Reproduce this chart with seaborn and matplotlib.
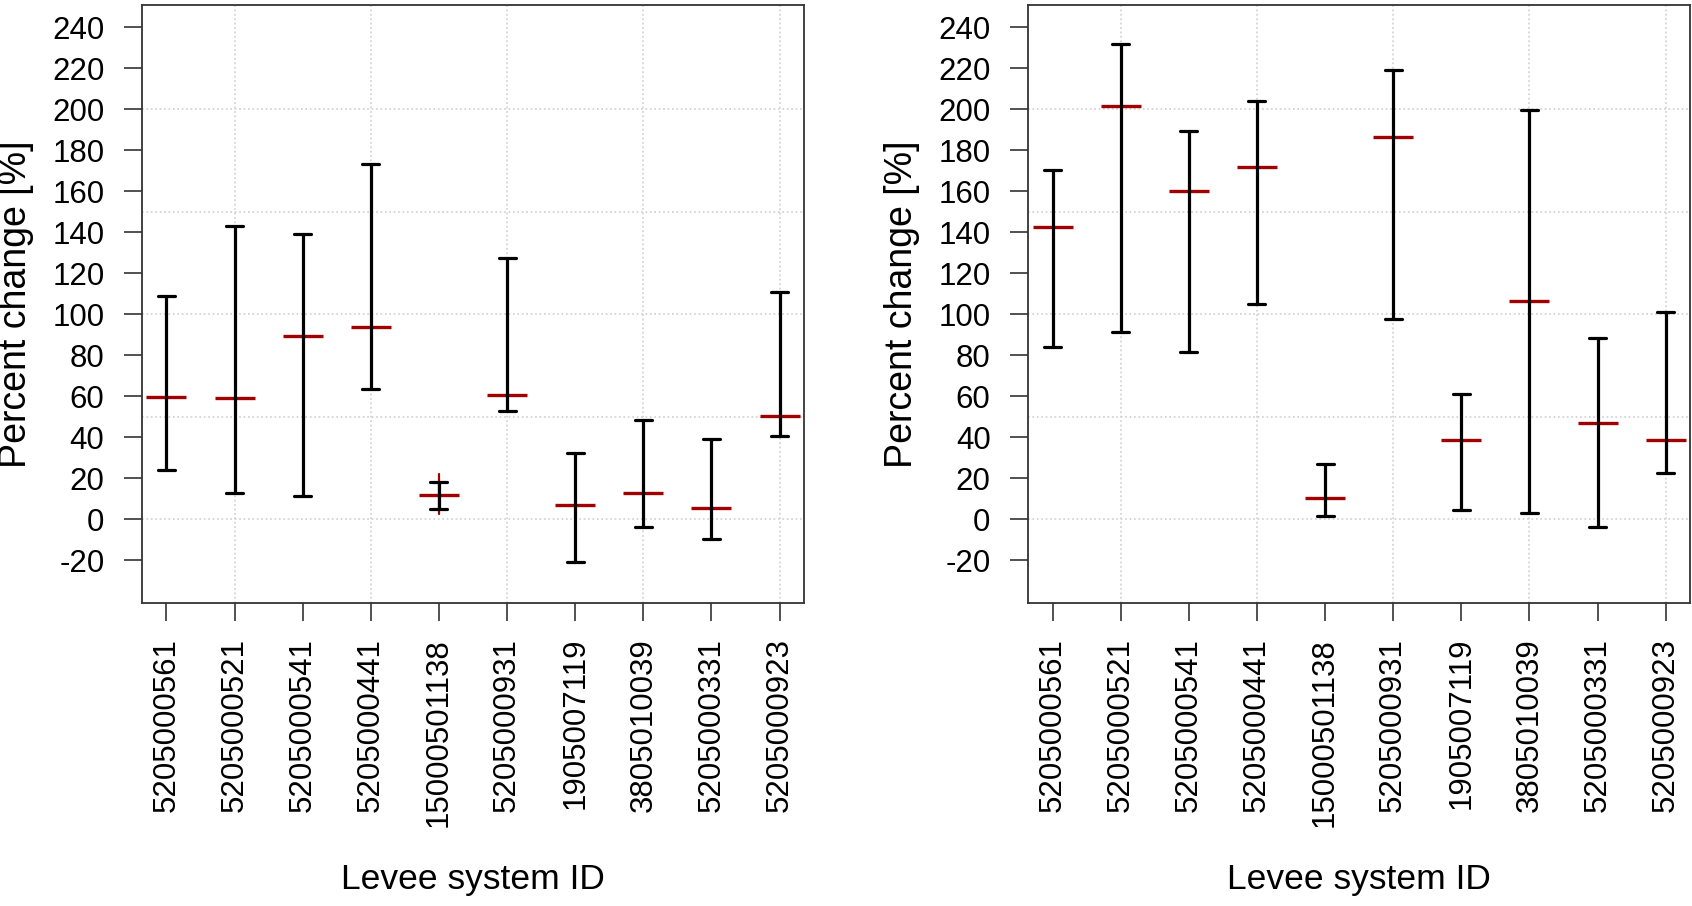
import numpy as np
import pandas as pd
import matplotlib
matplotlib.use("Agg")
import matplotlib.pyplot as plt
import seaborn as sns

# levee system IDs (same order in both panels)
levee_ids = ["5205000561", "5205000521", "5205000541", "5205000441", "15000501138",
             "5205000931", "1905007119", "3805010039", "5205000331", "5205000923"]

# left panel: median and range of percent change
left_med = [59.7, 59.0, 89.4, 93.9, 12.1, 60.5, 7.0, 13.0, 5.5, 50.6]
left_low = [24.3, 12.8, 11.5, 63.7, 4.9, 53.0, -21.0, -3.7, -9.8, 40.5]
left_high = [108.8, 143.0, 139.0, 173.5, 18.2, 127.5, 32.6, 48.7, 39.3, 110.8]

# red range that shows past the black caps in the left panel
left_red_ids = ["15000501138"]
left_red_low = [2.8]
left_red_high = [22.0]

# right panel
right_med = [142.8, 201.8, 160.1, 171.8, 10.6, 186.5, 38.6, 106.3, 46.8, 38.6]
right_low = [84.0, 91.3, 81.7, 104.9, 1.6, 97.7, 4.5, 3.1, -3.6, 22.7]
right_high = [170.2, 231.8, 189.6, 204.0, 27.2, 218.9, 60.9, 199.6, 88.6, 101.3]

y_ticks = list(range(-20, 241, 20))
grid_y = [0, 50, 100, 150, 200]

sns.set_style("white")
plt.rcParams["font.family"] = ["Liberation Sans", "DejaVu Sans"]
plt.rcParams["text.color"] = "black"
plt.rcParams["axes.labelcolor"] = "black"
plt.rcParams["xtick.color"] = "black"
plt.rcParams["ytick.color"] = "black"

RED = "#a00000"
GRID = "#cfcfcf"


def long_table(ids, *cols):
    rows = []
    for i, lid in enumerate(ids):
        for col in cols:
            rows.append({"id": lid, "value": col[i]})
    return pd.DataFrame(rows)


def draw_panel(ax, low, med, high, red_ids=None, red_low=None, red_high=None):
    df = long_table(levee_ids, low, med, high)
    for gy in grid_y:
        ax.axhline(gy, color=GRID, linestyle=":", linewidth=1.2, zorder=0)
    for gx in [1, 3, 5, 7, 9]:
        ax.axvline(gx, color=GRID, linestyle=":", linewidth=1.2, zorder=0)

    if red_ids:
        red_df = long_table(red_ids, red_low, red_high)
        sns.pointplot(data=red_df, x="id", y="value", order=levee_ids,
                      errorbar=lambda v: (v.min(), v.max()), color=RED, marker="",
                      linestyle="none", err_kws={"linewidth": 1.6}, ax=ax, zorder=1)

    # median marks
    sns.pointplot(data=df, x="id", y="value", order=levee_ids, estimator="median",
                  errorbar=None, color=RED, marker="_", markersize=29.5,
                  markeredgewidth=2.4, linestyle="none", ax=ax, zorder=2)
    # min-max range bars
    sns.pointplot(data=df, x="id", y="value", order=levee_ids, estimator="median",
                  errorbar=lambda v: (v.min(), v.max()), color="black", marker="",
                  linestyle="none", capsize=0.25, err_kws={"linewidth": 2.3},
                  ax=ax, zorder=3)

    ax.set_xlim(-0.36, 9.36)
    ax.set_ylim(-40.8, 250.8)
    ax.set_yticks(y_ticks)
    ax.set_yticklabels([str(t) for t in y_ticks])
    ax.set_xticks(range(len(levee_ids)))
    ax.set_xticklabels(levee_ids, rotation=90)
    ax.tick_params(axis="both", labelsize=22.5, length=13, width=1.1,
                   direction="out", color="#222222", labelcolor="black")
    ax.tick_params(axis="y", pad=14)
    ax.tick_params(axis="x", pad=12)
    ax.tick_params(bottom=True, left=True)
    for sp in ax.spines.values():
        sp.set_visible(True)
        sp.set_color("#333333")
        sp.set_linewidth(1.3)
    ax.set_xlabel("Levee system ID", fontsize=25.5)
    ax.set_ylabel("Percent change [%]", fontsize=27)
    ax.xaxis.set_label_coords(0.5, -0.435)
    ax.yaxis.set_label_coords(-0.163, 0.5)


fig = plt.figure(figsize=(16.92, 9.06), dpi=100)
ax1 = fig.add_axes([0.0839, 0.3344, 0.3913, 0.6600])
ax2 = fig.add_axes([0.6076, 0.3344, 0.3913, 0.6600])

draw_panel(ax1, left_low, left_med, left_high, left_red_ids, left_red_low, left_red_high)
draw_panel(ax2, right_low, right_med, right_high)

fig.savefig("out.png", dpi=100, facecolor="white")
